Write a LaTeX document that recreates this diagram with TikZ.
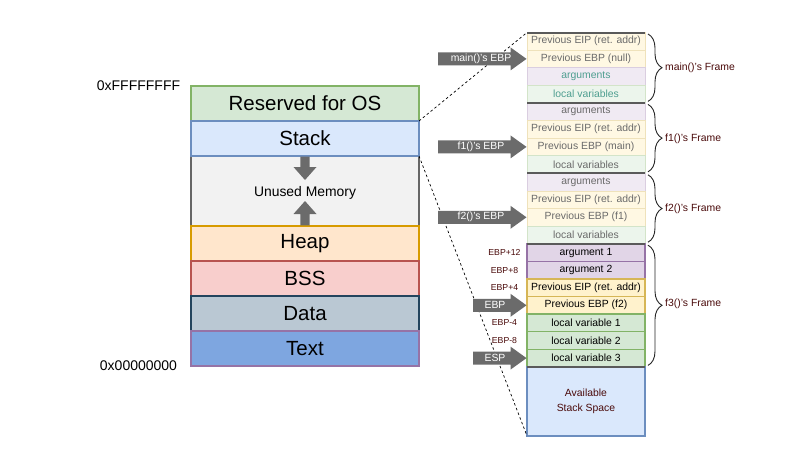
\documentclass[tikz,border=0pt]{standalone}
\usepackage{fontspec}
\setmainfont{Liberation Sans}
\usetikzlibrary{decorations.pathreplacing,calc}
\definecolor{gF}{HTML}{D5E8D4}\definecolor{gS}{HTML}{82B366}
\definecolor{bF}{HTML}{DAE8FC}\definecolor{bS}{HTML}{6C8EBF}
\definecolor{uF}{HTML}{F2F2F2}\definecolor{uS}{HTML}{666666}
\definecolor{oF}{HTML}{FFE6CC}\definecolor{oS}{HTML}{D79B00}
\definecolor{rF}{HTML}{F8CECC}\definecolor{rS}{HTML}{B85450}
\definecolor{dF}{HTML}{BAC8D3}\definecolor{dS}{HTML}{23445D}
\definecolor{tF}{HTML}{7EA6E0}\definecolor{tS}{HTML}{9673A6}
\definecolor{pF}{HTML}{E1D5E7}\definecolor{pS}{HTML}{9673A6}
\definecolor{yF}{HTML}{FFF2CC}\definecolor{yS}{HTML}{D6B656}
\definecolor{agray}{HTML}{6B6B6B}
\definecolor{sepgray}{HTML}{5A5A5A}
\definecolor{tgray}{HTML}{6A6A6A}
\definecolor{teal}{HTML}{4E9E90}
\definecolor{maroon}{HTML}{4A0A0A}
\newcommand\rarrow[3]{\fill[agray] (#1,#3-6.5) -- (#2-16,#3-6.5) -- (#2-16,#3-11.5) -- (#2,#3) -- (#2-16,#3+11.5) -- (#2-16,#3+6.5) -- (#1,#3+6.5) -- cycle;}
\begin{document}
\begin{tikzpicture}[x=1pt,y=-1pt,
  seg/.style={draw, line width=1.2pt, minimum width=228pt, minimum height=35pt, inner sep=0pt, outer sep=0pt, font=\fontsize{20.5}{24}\selectfont},
  addr/.style={font=\fontsize{14}{16}\selectfont, inner sep=0pt},
  row/.style={minimum width=118pt, minimum height=17.6pt, inner sep=0pt, outer sep=0pt, font=\fontsize{10.4}{12.5}\selectfont},
  lEIP/.style={row, fill=yF!55!white, draw=yS!40!white, line width=0.8pt, text=tgray},
  lARG/.style={row, fill=pF!50!white, draw=pS!35!white, line width=0.8pt, text=tgray},
  lLOC/.style={row, fill=gF!45!white, draw=gS!35!white, line width=0.8pt, text=tgray},
  dEIP/.style={row, fill=yF, draw=yS, line width=1.5pt},
  dARG/.style={row, fill=pF, draw=pS, line width=1.5pt},
  dLOC/.style={row, fill=gF, draw=gS, line width=1.5pt},
  sepline/.style={draw=sepgray, line width=2pt},
  brc/.style={draw=black!85, line width=0.9pt, decorate, decoration={brace, amplitude=14pt}},
  flbl/.style={text=maroon, font=\fontsize{10.4}{12.5}\selectfont, inner sep=0pt, anchor=west},
  olbl/.style={text=maroon, font=\fontsize{8.7}{10}\selectfont, inner sep=0pt},
  albl/.style={text=white, font=\fontsize{10.4}{12.5}\selectfont, inner sep=0pt},
  dashline/.style={draw=black, line width=0.7pt, dash pattern=on 2.5pt off 2.5pt}
]
\useasboundingbox (0,0) rectangle (787,453);
\fill[white] (0,0) rectangle (787,453);

% left memory layout
\node[seg, fill=gF, draw=gS] (res) at (305,103.5) {Reserved for OS};
\node[seg, fill=uF, draw=uS, minimum height=70pt] (unused) at (305,191) {};
\node[font=\fontsize{13.9}{16}\selectfont, inner sep=0pt] (unusedlbl) at (305,193) {Unused Memory};
\node[seg, fill=bF, draw=bS] (stack) at (305,138.5) {Stack};
\node[seg, fill=oF, draw=oS] (heap) at (305,243.5) {Heap};
\node[seg, fill=rF, draw=rS] (bss) at (305,278.5) {BSS};
\node[seg, fill=dF, draw=dS] (data) at (305,313.5) {Data};
\node[seg, fill=tF, draw=tS] (txt) at (305,348.5) {Text};
\node[addr] (hi) at (138.5,86) {0xFFFFFFFF};
\node[addr] (lo) at (138.5,366) {0x00000000};
\fill[agray] (300.3,156.6) -- (309.7,156.6) -- (309.7,167) -- (316.5,167) -- (305,180) -- (293.5,167) -- (300.3,167) -- cycle;
\fill[agray] (300.3,225.4) -- (309.7,225.4) -- (309.7,214) -- (316.5,214) -- (305,201) -- (293.5,214) -- (300.3,214) -- cycle;

% right stack frames
\node[lEIP] (r0) at (586,41.3) {Previous EIP (ret. addr)};
\node[lEIP] (r1) at (586,58.9) {Previous EBP (null)};
\node[lARG, text=teal] (r2) at (586,76.5) {arguments};
\node[lLOC, text=teal] (r3) at (586,94.1) {local variables};
\node[lARG] (r4) at (586,111.7) {arguments};
\node[lEIP] (r5) at (586,129.3) {Previous EIP (ret. addr)};
\node[lEIP] (r6) at (586,146.9) {Previous EBP (main)};
\node[lLOC] (r7) at (586,164.5) {local variables};
\node[lARG] (r8) at (586,182.1) {arguments};
\node[lEIP] (r9) at (586,199.7) {Previous EIP (ret. addr)};
\node[lEIP] (r10) at (586,217.3) {Previous EBP (f1)};
\node[lLOC] (r11) at (586,234.9) {local variables};
\node[dARG] (r12) at (586,252.5) {argument 1};
\node[dARG] (r13) at (586,270.1) {argument 2};
\node[dEIP] (r14) at (586,287.7) {Previous EIP (ret. addr)};
\node[dEIP] (r15) at (586,305.3) {Previous EBP (f2)};
\node[dLOC] (r16) at (586,322.9) {local variable 1};
\node[dLOC] (r17) at (586,340.5) {local variable 2};
\node[dLOC] (r18) at (586,358.1) {local variable 3};
\node[row, fill=bF, draw=bS, line width=1.2pt, minimum height=69pt, text=maroon, align=center] (avail) at (586,401.45) {Available\\[2pt]Stack Space};

\draw[sepline] (r0.north west) -- (r0.north east);
\draw[sepline] (r4.north west) -- (r4.north east);
\draw[sepline] (r8.north west) -- (r8.north east);
\draw[sepline] (r12.north west) -- (r12.north east);
\draw[sepline] (r18.south west) -- (r18.south east);

% braces and frame labels
\draw[brc] ($(r0.north east)+(3,1.5)$) -- ($(r3.south east)+(3,-1.5)$);
\draw[brc] ($(r4.north east)+(3,1.5)$) -- ($(r7.south east)+(3,-1.5)$);
\draw[brc] ($(r8.north east)+(3,1.5)$) -- ($(r11.south east)+(3,-1.5)$);
\draw[brc] ($(r12.north east)+(3,1.5)$) -- ($(r18.south east)+(3,-1.5)$);
\node[flbl] (fmain) at (665,68) {main()'s Frame};
\node[flbl] (ff1) at (665,138.5) {f1()'s Frame};
\node[flbl] (ff2) at (665,208.5) {f2()'s Frame};
\node[flbl] (ff3) at (665,304) {f3()'s Frame};

% offsets
\node[olbl] (o12) at (504.5,252.5) {EBP+12};
\node[olbl] (o8) at (504.5,270.1) {EBP+8};
\node[olbl] (o4) at (504.5,287.7) {EBP+4};
\node[olbl] (om4) at (504.5,322.9) {EBP-4};
\node[olbl] (om8) at (504.5,340.5) {EBP-8};

% dashed zoom lines
\draw[dashline] (stack.north east) -- (r0.north west);
\draw[dashline] (stack.south east) -- (avail.south west);

% pointer arrows
\rarrow{438}{526.5}{58.9}
\node[albl] (amain) at (481,58.9) {main()'s EBP};
\rarrow{438}{526.5}{146.9}
\node[albl] (af1) at (481,146.9) {f1()'s EBP};
\rarrow{438}{526.5}{217.3}
\node[albl] (af2) at (481,217.3) {f2()'s EBP};
\rarrow{473}{526.5}{305.3}
\node[albl] (aebp) at (495,305.3) {EBP};
\rarrow{473}{526.5}{358.1}
\node[albl] (aesp) at (495,358.1) {ESP};
\end{tikzpicture}
\end{document}
